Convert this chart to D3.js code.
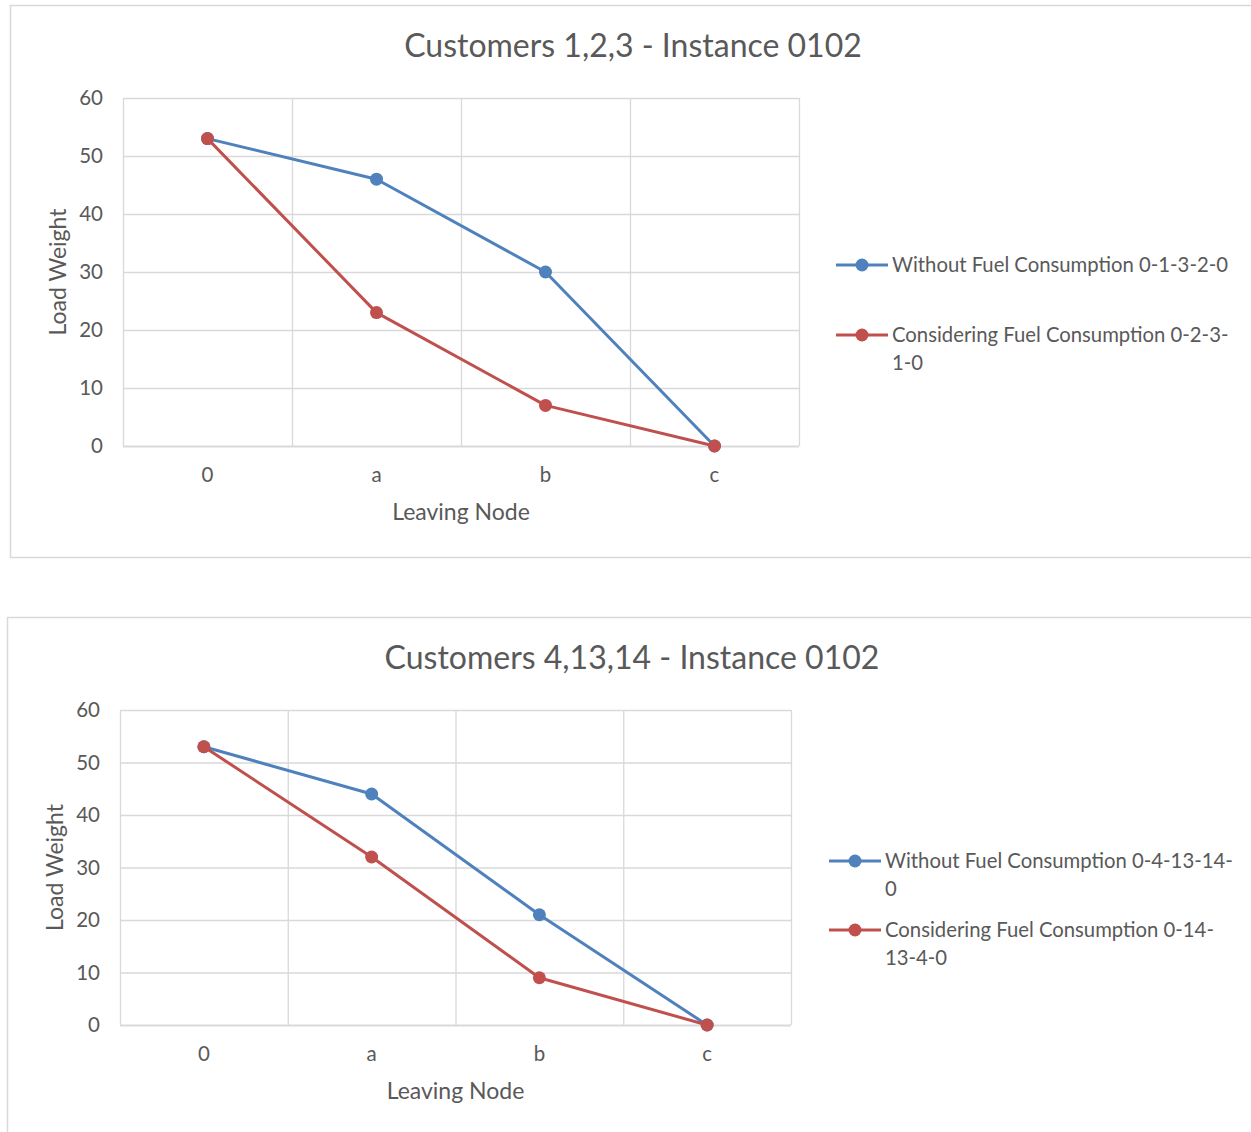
<!DOCTYPE html>
<html>
<head>
<meta charset="utf-8">
<script src="https://cdn.jsdelivr.net/npm/d3@7"></script>
<style>
  body { margin: 0; background: #fff; }
  text { font-family: Lato, "Open Sans", sans-serif; fill: #595959; }
</style>
</head>
<body>
<div id="chart"></div>
<script>
// categories on the x axis
const nodes = ['0', 'a', 'b', 'c'];
const yTicks = [0, 10, 20, 30, 40, 50, 60];

// chart 1 : customers 1,2,3
const withoutFuel1 = [53, 46, 30, 0];
const withFuel1 = [53, 23, 7, 0];
// chart 2 : customers 4,13,14
const withoutFuel2 = [53, 44, 21, 0];
const withFuel2 = [53, 32, 9, 0];

const titles = ['Customers 1,2,3 - Instance 0102', 'Customers 4,13,14 - Instance 0102'];
const legend1 = [['Without Fuel Consumption 0-1-3-2-0'], ['Considering Fuel Consumption 0-2-3-', '1-0']];
const legend2 = [['Without Fuel Consumption 0-4-13-14-', '0'], ['Considering Fuel Consumption 0-14-', '13-4-0']];

const blue = '#4F81BD';
const red = '#C0504D';
const grid = '#D9D9D9';

const svg = d3.select('#chart').append('svg')
  .attr('width', 1251)
  .attr('height', 1132);

function drawChart(cfg) {
  const g = svg.append('g');

  // chart border
  g.append('rect')
    .attr('x', cfg.box.x + 0.5).attr('y', cfg.box.y + 0.5)
    .attr('width', cfg.box.w).attr('height', cfg.box.h)
    .attr('fill', '#fff').attr('stroke', grid).attr('stroke-width', 1.5);

  const x = d3.scaleBand().domain(nodes).range([cfg.plot.left, cfg.plot.right]);
  const y = d3.scaleLinear().domain([0, 60]).range([cfg.plot.bottom, cfg.plot.top]);

  // horizontal grid
  g.selectAll('.hgrid').data(yTicks).join('line')
    .attr('x1', cfg.plot.left).attr('x2', cfg.plot.right)
    .attr('y1', d => y(d) + 0.5).attr('y2', d => y(d) + 0.5)
    .attr('stroke', grid).attr('stroke-width', d => d === 0 ? 2 : 1.3);

  // vertical grid at band edges
  const edges = nodes.map(d => x(d)).concat([cfg.plot.right]);
  g.selectAll('.vgrid').data(edges).join('line')
    .attr('x1', d => d + 0.5).attr('x2', d => d + 0.5)
    .attr('y1', cfg.plot.top).attr('y2', cfg.plot.bottom)
    .attr('stroke', grid).attr('stroke-width', 1.3);

  // y tick labels
  g.selectAll('.ylab').data(yTicks).join('text')
    .attr('x', cfg.plot.left - 20).attr('y', d => y(d))
    .attr('dy', '0.35em').attr('text-anchor', 'end')
    .style('font-size', '20.5px')
    .text(d => d);

  // x tick labels
  g.selectAll('.xlab').data(nodes).join('text')
    .attr('x', d => x(d) + x.bandwidth() / 2)
    .attr('y', cfg.plot.bottom + 29)
    .attr('dy', '0.35em').attr('text-anchor', 'middle')
    .style('font-size', '20.5px')
    .text(d => d);

  // axis titles
  g.append('text')
    .attr('x', (cfg.plot.left + cfg.plot.right) / 2)
    .attr('y', cfg.plot.bottom + 66)
    .attr('dy', '0.35em').attr('text-anchor', 'middle')
    .style('font-size', '23px')
    .text('Leaving Node');
  g.append('text')
    .attr('transform', `translate(${cfg.yTitleX},${(cfg.plot.top + cfg.plot.bottom) / 2}) rotate(-90)`)
    .attr('dy', '0.35em').attr('text-anchor', 'middle')
    .style('font-size', '23px')
    .text('Load Weight');

  // chart title
  g.append('text')
    .attr('x', cfg.titleX).attr('y', cfg.titleY)
    .attr('dy', '0.35em').attr('text-anchor', 'middle')
    .style('font-size', '32px')
    .text(cfg.title);

  const line = d3.line()
    .x((d, i) => x(nodes[i]) + x.bandwidth() / 2)
    .y(d => y(d));

  cfg.series.forEach(s => {
    g.append('path')
      .datum(s.values)
      .attr('d', line)
      .attr('fill', 'none')
      .attr('stroke', s.color)
      .attr('stroke-width', 3)
      .attr('stroke-linejoin', 'round');
    g.selectAll(null).data(s.values).join('circle')
      .attr('cx', (d, i) => x(nodes[i]) + x.bandwidth() / 2)
      .attr('cy', d => y(d))
      .attr('r', 6.5)
      .attr('fill', s.color);
  });

  // legend
  cfg.series.forEach((s, i) => {
    const ly = cfg.legend.y[i];
    const lg = g.append('g');
    lg.append('line')
      .attr('x1', cfg.legend.x).attr('x2', cfg.legend.x + 52)
      .attr('y1', ly).attr('y2', ly)
      .attr('stroke', s.color).attr('stroke-width', 3);
    lg.append('circle')
      .attr('cx', cfg.legend.x + 26).attr('cy', ly).attr('r', 6.5)
      .attr('fill', s.color);
    lg.selectAll('text').data(s.label).join('text')
      .attr('x', cfg.legend.x + 56)
      .attr('y', (d, j) => ly + j * 28)
      .attr('dy', '0.35em')
      .style('font-size', '20.3px')
      .text(d => d);
  });
}

drawChart({
  box: { x: 10, y: 5, w: 1250, h: 552 },
  plot: { left: 123, right: 799, top: 98, bottom: 446 },
  title: titles[0], titleX: 633, titleY: 46,
  yTitleX: 58,
  legend: { x: 836, y: [265, 335] },
  series: [
    { values: withoutFuel1, color: blue, label: legend1[0] },
    { values: withFuel1, color: red, label: legend1[1] }
  ]
});

drawChart({
  box: { x: 7, y: 617, w: 1250, h: 530 },
  plot: { left: 120, right: 791, top: 710, bottom: 1025 },
  title: titles[1], titleX: 632, titleY: 658,
  yTitleX: 55,
  legend: { x: 829, y: [861, 930] },
  series: [
    { values: withoutFuel2, color: blue, label: legend2[0] },
    { values: withFuel2, color: red, label: legend2[1] }
  ]
});
</script>
</body>
</html>
